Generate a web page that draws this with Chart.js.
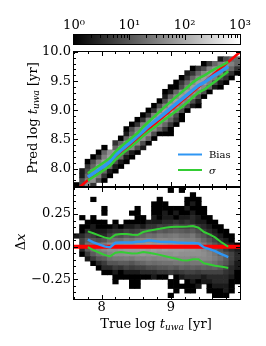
<!DOCTYPE html>
<html lang="en">
<head>
  <meta charset="UTF-8">
  <title>Predicted vs true age</title>
  <style>
    html, body { margin: 0; padding: 0; background: #fff; }
    body { width: 266px; height: 346px; position: relative; overflow: hidden; }
    canvas { position: absolute; left: 0; top: 0; }
  </style>
  <script src="https://cdn.jsdelivr.net/npm/chart.js"></script>
</head>
<body>
  <canvas id="barChart" width="266" height="346"></canvas>
  <canvas id="topChart" width="266" height="346"></canvas>
  <canvas id="bottomChart" width="266" height="346"></canvas>

  <script>
    // Bin centres along true log t (shared by both histograms)
    const columnCentres = [7.64, 7.72, 7.8, 7.88, 7.96, 8.04, 8.12, 8.2, 8.28, 8.36, 8.44, 8.52, 8.6, 8.68, 8.76,
      8.84, 8.92, 9, 9.08, 9.16, 9.24, 9.32, 9.4, 9.48, 9.56, 9.64, 9.72, 9.8, 9.88, 9.96];

    // Top histogram: lower edge of each row, first filled column, counts from there on
    const topRowLow = [7.68, 7.76, 7.84, 7.92, 8, 8.08, 8.16, 8.24, 8.32, 8.4, 8.48, 8.56, 8.64, 8.72,
      8.8, 8.88, 8.96, 9.04, 9.12, 9.2, 9.28, 9.36, 9.44, 9.52, 9.6, 9.68, 9.76, 9.84];
    const topRowStart = [0, 1, 1, 1, 2, 2, 3, 4, 5, 7, 8, 9, 9, 10, 11, 12, 13, 14, 15, 16, 16, 17, 18, 19, 20, 21, 23, 26];
    const topRowCounts = [
      [1, 8, 40, 4],
      [8, 32, 50, 8, 1],
      [2, 16, 60, 32, 4, 1],
      [2, 8, 40, 63, 16, 2, 1],
      [4, 16, 63, 63, 16, 2, 1],
      [1, 8, 32, 70, 50, 8, 2, 1],
      [1, 4, 32, 70, 50, 16, 2, 1],
      [1, 16, 50, 70, 40, 8, 2, 1],
      [1, 0, 16, 50, 70, 40, 8, 2],
      [4, 16, 50, 70, 40, 8, 1],
      [1, 16, 50, 70, 50, 16, 1],
      [2, 16, 50, 70, 50, 8, 1, 1, 1],
      [1, 8, 32, 70, 70, 40, 16, 4, 1],
      [1, 4, 32, 70, 70, 40, 16, 4, 1],
      [1, 4, 32, 70, 70, 40, 16, 4, 1],
      [1, 4, 32, 70, 70, 32, 8, 1],
      [1, 4, 32, 70, 70, 32, 8, 1],
      [1, 8, 32, 70, 50, 32, 8, 2, 1],
      [1, 8, 40, 70, 50, 32, 8, 2],
      [2, 16, 40, 70, 50, 32, 8, 1],
      [1, 2, 16, 50, 70, 50, 32, 8, 1],
      [1, 1, 8, 32, 70, 70, 40, 16, 2, 1],
      [1, 4, 16, 40, 70, 70, 32, 8, 2, 1],
      [1, 4, 16, 40, 70, 50, 32, 8, 4, 1],
      [2, 4, 16, 40, 70, 50, 32, 8, 4, 1],
      [1, 4, 8, 32, 50, 50, 32, 16, 4],
      [1, 4, 16, 32, 50, 32, 16],
      [2, 8, 16, 16]
    ];

    // Bottom histogram: upper edge of each row, full rows of counts across the 30 columns
    const bottomRowHigh = [0.45, 0.415, 0.38, 0.345, 0.31, 0.275, 0.24, 0.205, 0.17, 0.135, 0.1, 0.065, 0.03,
      -0.005, -0.04, -0.075, -0.11, -0.145, -0.18, -0.215, -0.25, -0.285, -0.32, -0.355];
    const bottomRowCounts = [
      [0, 0, 0, 0, 0, 0, 0, 0, 0, 0, 0, 0, 0, 0, 0, 0, 0, 1, 0, 1, 0, 0, 0, 0, 0, 0, 0, 0, 0, 0],
      [0, 0, 0, 0, 0, 0, 0, 0, 0, 0, 0, 0, 0, 0, 0, 0, 0, 0, 0, 0, 0, 1, 0, 0, 0, 0, 0, 0, 0, 0],
      [0, 0, 0, 1, 0, 0, 0, 0, 0, 0, 0, 0, 0, 0, 0, 1, 0, 0, 0, 0, 1, 1, 1, 0, 0, 0, 0, 0, 0, 0],
      [0, 0, 0, 0, 0, 0, 0, 0, 0, 0, 0, 0, 0, 0, 1, 1, 1, 0, 0, 0, 1, 2, 1, 0, 0, 0, 0, 0, 0, 0],
      [0, 0, 0, 0, 0, 1, 0, 0, 0, 0, 0, 1, 0, 0, 1, 1, 1, 1, 1, 1, 2, 1, 1, 1, 0, 0, 0, 0, 0, 0],
      [0, 0, 0, 0, 0, 1, 0, 0, 0, 0, 1, 1, 0, 0, 1, 1, 2, 1, 2, 1, 1, 2, 1, 1, 0, 0, 0, 0, 0, 0],
      [0, 1, 0, 1, 0, 0, 0, 0, 0, 0, 0, 1, 1, 0, 2, 1, 2, 2, 1, 2, 2, 3, 2, 1, 1, 0, 0, 0, 0, 0],
      [0, 0, 1, 1, 1, 1, 0, 1, 0, 1, 1, 1, 1, 2, 2, 2, 3, 3, 4, 3, 4, 3, 2, 2, 1, 1, 0, 0, 0, 0],
      [0, 1, 1, 2, 1, 1, 1, 2, 1, 2, 2, 3, 2, 4, 4, 6, 5, 6, 8, 6, 6, 8, 4, 3, 2, 1, 1, 0, 0, 0],
      [0, 1, 3, 2, 2, 2, 3, 4, 4, 6, 5, 6, 8, 10, 8, 12, 10, 12, 14, 12, 10, 12, 8, 5, 3, 2, 1, 1, 0, 0],
      [2, 3, 6, 5, 3, 3, 6, 10, 8, 12, 10, 14, 16, 20, 18, 25, 22, 25, 28, 22, 20, 25, 14, 10, 6, 3, 2, 1, 1, 0],
      [0, 6, 12, 10, 8, 10, 18, 22, 20, 28, 25, 32, 36, 40, 36, 40, 40, 36, 40, 36, 32, 32, 25, 16, 10, 6, 3, 2, 1, 0],
      [0, 6, 20, 22, 22, 28, 40, 45, 45, 50, 50, 56, 56, 63, 56, 63, 63, 56, 63, 56, 50, 50, 40, 28, 16, 10, 6, 3, 2, 1],
      [0, 3, 12, 22, 32, 40, 50, 50, 56, 63, 63, 63, 70, 63, 70, 63, 70, 63, 63, 63, 56, 56, 50, 40, 28, 16, 10, 5, 3, 2],
      [0, 1, 5, 12, 20, 25, 36, 45, 45, 50, 50, 50, 56, 50, 56, 50, 50, 50, 56, 50, 50, 50, 50, 45, 36, 25, 14, 10, 6, 3],
      [0, 0, 2, 5, 10, 12, 20, 25, 25, 28, 25, 32, 32, 36, 32, 36, 36, 40, 36, 40, 40, 36, 40, 40, 36, 28, 20, 12, 6, 3],
      [0, 0, 0, 1, 3, 5, 10, 10, 12, 12, 10, 14, 16, 20, 18, 20, 22, 22, 25, 25, 22, 25, 25, 25, 25, 20, 14, 10, 5, 2],
      [0, 0, 0, 0, 1, 3, 3, 5, 4, 6, 5, 6, 6, 8, 8, 10, 10, 12, 10, 14, 12, 14, 12, 14, 12, 14, 10, 6, 3, 2],
      [0, 0, 0, 0, 0, 1, 1, 2, 1, 2, 2, 2, 3, 3, 3, 4, 4, 5, 4, 5, 6, 6, 5, 6, 6, 6, 6, 4, 3, 1],
      [0, 0, 0, 0, 0, 0, 0, 1, 1, 1, 1, 1, 1, 1, 2, 1, 1, 0, 1, 2, 3, 3, 3, 2, 3, 3, 3, 3, 2, 1],
      [0, 0, 0, 0, 0, 0, 0, 1, 0, 0, 1, 1, 0, 0, 0, 0, 0, 1, 1, 0, 1, 2, 1, 2, 2, 3, 3, 3, 1, 1],
      [0, 0, 0, 0, 0, 0, 0, 0, 0, 0, 1, 1, 0, 0, 0, 0, 0, 1, 1, 1, 1, 1, 2, 0, 1, 2, 2, 2, 1, 0],
      [0, 0, 0, 0, 0, 0, 0, 0, 0, 0, 0, 0, 0, 0, 0, 0, 0, 0, 1, 0, 1, 1, 0, 0, 1, 1, 1, 2, 1, 0],
      [0, 0, 0, 0, 0, 0, 0, 0, 0, 0, 0, 0, 0, 0, 0, 0, 0, 1, 0, 0, 0, 0, 0, 0, 0, 1, 1, 1, 0, 0]
    ];
    const topCellHeight = 0.08;
    const bottomCellHeight = 0.035;

    // Running statistics
    const trueLogT = [7.8, 7.88, 7.96, 8.04, 8.12, 8.2, 8.28, 8.36, 8.44, 8.52, 8.6, 8.68, 8.76, 8.84, 8.92, 9,
      9.08, 9.16, 9.24, 9.32, 9.4, 9.48, 9.56, 9.64, 9.72, 9.8, 9.83];
    const predBias = [7.854, 7.913, 7.978, 8.043, 8.115, 8.231, 8.313, 8.393, 8.473, 8.558, 8.641, 8.729, 8.804,
      8.878, 8.956, 9.036, 9.113, 9.191, 9.268, 9.348, 9.426, 9.475, 9.542, 9.607, 9.666, 9.728, 9.751];
    const predUpper = [7.918, 7.983, 8.047, 8.112, 8.182, 8.292, 8.377, 8.457, 8.532, 8.61, 8.713, 8.803, 8.891,
      8.978, 9.066, 9.151, 9.234, 9.314, 9.396, 9.479, 9.546, 9.593, 9.655, 9.712, 9.758, 9.81, 9.83];
    const predLower = [7.797, 7.854, 7.916, 7.978, 8.046, 8.154, 8.239, 8.314, 8.389, 8.471, 8.559, 8.634, 8.706,
      8.778, 8.848, 8.918, 8.988, 9.057, 9.135, 9.225, 9.305, 9.354, 9.424, 9.494, 9.569, 9.641, 9.668];
    const deltaBias = [0.054, 0.033, 0.018, 0.003, -0.005, 0.031, 0.033, 0.033, 0.033, 0.038, 0.041, 0.049, 0.044,
      0.038, 0.036, 0.036, 0.033, 0.031, 0.028, 0.028, 0.026, -0.005, -0.018, -0.033, -0.054, -0.072, -0.079];
    const deltaUpper = [0.118, 0.103, 0.087, 0.072, 0.062, 0.092, 0.097, 0.097, 0.092, 0.09, 0.113, 0.123, 0.131,
      0.138, 0.146, 0.151, 0.154, 0.154, 0.156, 0.159, 0.146, 0.113, 0.095, 0.072, 0.038, 0.01, 0];
    const deltaLower = [-0.003, -0.026, -0.044, -0.062, -0.074, -0.046, -0.041, -0.046, -0.051, -0.049, -0.041,
      -0.046, -0.054, -0.062, -0.072, -0.082, -0.092, -0.103, -0.105, -0.095, -0.095, -0.126, -0.136, -0.146,
      -0.151, -0.159, -0.162];

    // Tick positions and labels
    const colorbarTicks = [1, 10, 100, 1000];
    const colorbarLabels = ['10\u2070', '10\u00b9', '10\u00b2', '10\u00b3'];
    const colorbarMinor = [2, 3, 4, 5, 6, 7, 8, 9, 20, 30, 40, 50, 60, 70, 80, 90, 200, 300, 400, 500, 600, 700, 800, 900];
    const xMajor = [8, 9];
    const xMinor = [7.6, 7.8, 8.2, 8.4, 8.6, 8.8, 9.2, 9.4, 9.6, 9.8];
    const topYMajor = [8, 8.5, 9, 9.5, 10];
    const topYMinor = [7.7, 7.8, 7.9, 8.1, 8.2, 8.3, 8.4, 8.6, 8.7, 8.8, 8.9, 9.1, 9.2, 9.3, 9.4, 9.6, 9.7, 9.8, 9.9];
    const bottomYMajor = [-0.25, 0, 0.25];
    const bottomYMinor = [-0.35, -0.3, -0.2, -0.15, -0.1, -0.05, 0.05, 0.1, 0.15, 0.2, 0.3, 0.35, 0.4];

    const SERIF = "'DejaVu Serif'";
    const RED = '#ff0000';
    const BLUE = '#2f96f3';
    const GREEN = '#34cd34';

    // LogNorm(1, 1000) on the gray colormap
    const grayFor = (count) => {
      const v = Math.round(255 * Math.log10(count) / 3);
      return `rgb(${v},${v},${v})`;
    };

    const topCells = [];
    topRowCounts.forEach((row, r) => {
      row.forEach((count, c) => {
        if (count > 0) {
          topCells.push({ x: columnCentres[topRowStart[r] + c], y: [topRowLow[r], topRowLow[r] + topCellHeight], count });
        }
      });
    });

    const bottomCells = [];
    bottomRowCounts.forEach((row, r) => {
      row.forEach((count, c) => {
        if (count > 0) {
          bottomCells.push({ x: columnCentres[c], y: [bottomRowHigh[r] - bottomCellHeight, bottomRowHigh[r]], count });
        }
      });
    });

    const pairs = (xs, ys) => xs.map((x, i) => ({ x, y: ys[i] }));

    const cellDataset = (cells) => ({
      type: 'bar',
      data: cells,
      backgroundColor: cells.map((c) => grayFor(c.count)),
      barPercentage: 1,
      categoryPercentage: 1,
      grouped: false,
      order: 5
    });

    const lineDataset = (label, data, color, width, order) => ({
      type: 'line',
      label,
      data,
      borderColor: color,
      borderWidth: width,
      pointRadius: 0,
      tension: 0,
      order
    });

    // Frame and inward ticks, on all four sides unless topOnly is set
    const frameTicks = {
      id: 'frameTicks',
      afterDatasetsDraw(chart, args, opts) {
        const { ctx, chartArea: a, scales } = chart;
        ctx.save();
        ctx.strokeStyle = '#000';
        ctx.lineWidth = 1;
        const vTick = (v, len) => {
          const p = Math.round(scales.x.getPixelForValue(v)) + 0.5;
          ctx.moveTo(p, a.top); ctx.lineTo(p, a.top + len);
          if (!opts.topOnly) {
            ctx.moveTo(p, a.bottom); ctx.lineTo(p, a.bottom - len);
          }
        };
        const hTick = (v, len) => {
          const p = Math.round(scales.y.getPixelForValue(v)) + 0.5;
          ctx.moveTo(a.left, p); ctx.lineTo(a.left + len, p);
          ctx.moveTo(a.right, p); ctx.lineTo(a.right - len, p);
        };
        ctx.beginPath();
        opts.xMajor.forEach((v) => vTick(v, opts.majorLength));
        opts.xMinor.forEach((v) => vTick(v, opts.minorLength));
        (opts.yMajor || []).forEach((v) => hTick(v, opts.majorLength));
        (opts.yMinor || []).forEach((v) => hTick(v, opts.minorLength));
        ctx.stroke();
        ctx.strokeRect(a.left - 0.5, a.top - 0.5, a.right - a.left + 1, a.bottom - a.top + 1);
        ctx.restore();
      }
    };

    // Mixed italic/subscript text, which a scale title cannot do
    const drawRich = (ctx, parts, cx, cy, angle) => {
      ctx.save();
      ctx.translate(cx, cy);
      ctx.rotate(angle);
      ctx.fillStyle = '#000';
      ctx.textBaseline = 'alphabetic';
      ctx.textAlign = 'left';
      let width = 0;
      parts.forEach((p) => { ctx.font = p.font; width += ctx.measureText(p.text).width; });
      let x = -width / 2;
      parts.forEach((p) => {
        ctx.font = p.font;
        ctx.fillText(p.text, x, p.dy || 0);
        x += ctx.measureText(p.text).width;
      });
      ctx.restore();
    };

    const ageLabel = (first) => [
      { text: first + ' log ', font: `13px ${SERIF}` },
      { text: 't', font: `italic 13px ${SERIF}` },
      { text: 'uwa', font: `italic 9px ${SERIF}`, dy: 2 },
      { text: ' [yr]', font: `13px ${SERIF}` }
    ];

    const topLabels = {
      id: 'topLabels',
      afterDraw(chart) {
        const ctx = chart.ctx;
        drawRich(ctx, ageLabel('Pred'), 37, 118, -Math.PI / 2);
        // legend
        ctx.save();
        ctx.lineWidth = 2;
        ctx.strokeStyle = BLUE;
        ctx.beginPath(); ctx.moveTo(178, 154.5); ctx.lineTo(202, 154.5); ctx.stroke();
        ctx.strokeStyle = GREEN;
        ctx.beginPath(); ctx.moveTo(178, 170); ctx.lineTo(202, 170); ctx.stroke();
        ctx.fillStyle = '#000';
        ctx.textBaseline = 'alphabetic';
        ctx.font = `10px ${SERIF}`;
        ctx.fillText('Bias', 209, 158);
        ctx.font = `italic 10px ${SERIF}`;
        ctx.fillText('\u03c3', 209, 173.5);
        ctx.restore();
      }
    };

    const bottomLabels = {
      id: 'bottomLabels',
      afterDraw(chart) {
        const ctx = chart.ctx;
        drawRich(ctx, [
          { text: '\u0394', font: `13px ${SERIF}` },
          { text: 'x', font: `italic 13px ${SERIF}` }
        ], 25, 242, -Math.PI / 2);
        drawRich(ctx, ageLabel('True'), 156, 328, 0);
      }
    };

    const colorbarFill = {
      id: 'colorbarFill',
      beforeDatasetsDraw(chart) {
        const { ctx, chartArea: a } = chart;
        const gradient = ctx.createLinearGradient(a.left, 0, a.right, 0);
        gradient.addColorStop(0, '#000');
        gradient.addColorStop(1, '#fff');
        ctx.save();
        ctx.fillStyle = gradient;
        ctx.fillRect(a.left, a.top, a.right - a.left, a.bottom - a.top);
        ctx.restore();
      }
    };

    const setTicks = (values) => (scale) => { scale.ticks = values.map((value) => ({ value })); };
    const tickFont = { family: SERIF, size: 13 };
    const noGrid = { display: false, drawTicks: false };

    // The x scale box has to hold its labels, Chart.js clips tick labels to it
    const panelOptions = (area, yMin, yMax, yTicks, yFormat, xRoom) => ({
      responsive: false,
      animation: false,
      events: [],
      layout: { padding: { left: 0, top: area.top, right: 266 - area.right, bottom: 346 - area.bottom - xRoom } },
      plugins: { legend: { display: false }, tooltip: { enabled: false } },
      scales: {
        x: {
          type: 'linear',
          min: 7.6,
          max: 10,
          offset: false,
          afterBuildTicks: setTicks(xMajor),
          afterFit: (s) => { s.height = xRoom; },
          grid: noGrid,
          border: { display: false },
          ticks: {
            display: xRoom > 0,
            autoSkip: false,
            maxRotation: 0,
            padding: 1,
            color: '#000',
            font: tickFont,
            callback: (v) => String(v)
          }
        },
        y: {
          type: 'linear',
          min: yMin,
          max: yMax,
          afterBuildTicks: setTicks(yTicks),
          afterFit: (s) => { s.width = area.left; },
          grid: noGrid,
          border: { display: false },
          ticks: { padding: 3, color: '#000', font: tickFont, autoSkip: false, callback: yFormat }
        }
      }
    });

    // Colorbar
    const barOptions = panelOptions({ left: 74, right: 240, top: 35, bottom: 44 }, 0, 1, [], () => '', 0);
    barOptions.layout.padding.top = 0;
    barOptions.scales.x = {
      type: 'logarithmic',
      position: 'top',
      min: 1,
      max: 1000,
      afterBuildTicks: setTicks(colorbarTicks),
      afterFit: (s) => { s.height = 35; },
      grid: noGrid,
      border: { display: false },
      ticks: {
        autoSkip: false,
        maxRotation: 0,
        padding: 2,
        color: '#000',
        font: tickFont,
        callback: (v, i) => colorbarLabels[i]
      }
    };
    barOptions.scales.y.display = false;
    barOptions.plugins.frameTicks = { xMajor: colorbarTicks, xMinor: colorbarMinor, majorLength: 5, minorLength: 3, topOnly: true };
    new Chart(document.getElementById('barChart'), {
      type: 'scatter',
      data: { datasets: [{ data: [] }] },
      options: barOptions,
      plugins: [colorbarFill, frameTicks]
    });

    // Pred vs true
    const topOptions = panelOptions({ left: 74, right: 240, top: 52, bottom: 186 }, 7.7, 10, topYMajor, (v) => v.toFixed(1), 0);
    topOptions.plugins.frameTicks = { xMajor, xMinor, yMajor: topYMajor, yMinor: topYMinor, majorLength: 4, minorLength: 2 };
    new Chart(document.getElementById('topChart'), {
      type: 'bar',
      data: {
        datasets: [
          cellDataset(topCells),
          lineDataset('y = x', pairs([7.6, 10], [7.6, 10]), RED, 2.5, 4),
          lineDataset('Bias', pairs(trueLogT, predBias), BLUE, 3.5, 3),
          lineDataset('\u03c3', pairs(trueLogT, predUpper), GREEN, 2.5, 2),
          lineDataset('\u03c3', pairs(trueLogT, predLower), GREEN, 2.5, 1)
        ]
      },
      options: topOptions,
      plugins: [frameTicks, topLabels]
    });

    // Residuals
    const formatDelta = (v) => (v < 0 ? '\u2212' : '') + Math.abs(v).toFixed(2);
    const bottomOptions = panelOptions({ left: 74, right: 240, top: 188, bottom: 299 }, -0.4, 0.45, bottomYMajor, formatDelta, 47);
    bottomOptions.plugins.frameTicks = { xMajor, xMinor, yMajor: bottomYMajor, yMinor: bottomYMinor, majorLength: 4, minorLength: 2 };
    new Chart(document.getElementById('bottomChart'), {
      type: 'bar',
      data: {
        datasets: [
          cellDataset(bottomCells),
          lineDataset('zero', pairs([7.6, 10], [0, 0]), RED, 4, 4),
          lineDataset('Bias', pairs(trueLogT, deltaBias), BLUE, 2.5, 3),
          lineDataset('\u03c3', pairs(trueLogT, deltaUpper), GREEN, 2, 2),
          lineDataset('\u03c3', pairs(trueLogT, deltaLower), GREEN, 2, 1)
        ]
      },
      options: bottomOptions,
      plugins: [frameTicks, bottomLabels]
    });
  </script>
</body>
</html>
